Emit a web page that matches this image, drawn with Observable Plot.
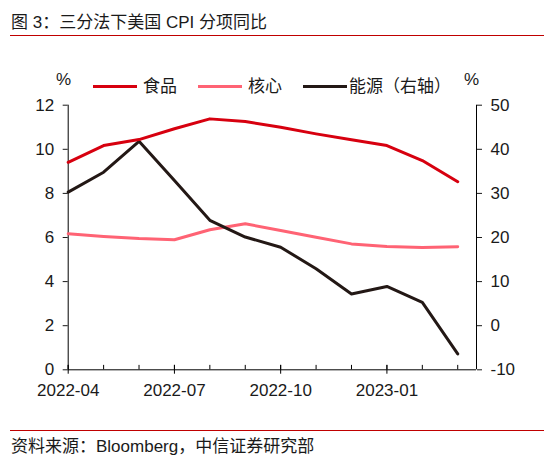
<!DOCTYPE html>
<html><head><meta charset="utf-8">
<script src="https://cdn.jsdelivr.net/npm/d3@7"></script>
<script src="https://cdn.jsdelivr.net/npm/@observablehq/plot@0.6"></script>
<style>
body{margin:0;background:#fff;}
#wrap{position:relative;width:558px;height:462px;font-family:"Liberation Sans",Arial,"Noto Sans CJK SC",sans-serif;color:#1a1a1a;overflow:hidden;}
.abs{position:absolute;white-space:nowrap;line-height:1;}
#wrap svg{position:absolute;left:0;top:0;background:transparent;}
</style></head><body><div id="wrap"></div>
<script>
const months = ["2022-04","2022-05","2022-06","2022-07","2022-08","2022-09","2022-10","2022-11","2022-12","2023-01","2023-02","2023-03"];
const food   = [9.41, 10.17, 10.44, 10.93, 11.38, 11.26, 11.0, 10.70, 10.43, 10.17, 9.49, 8.53];
const core   = [6.17, 6.05, 5.95, 5.90, 6.35, 6.62, 6.32, 6.01, 5.71, 5.59, 5.55, 5.58];
const energy = [30.3, 34.8, 41.8, 32.9, 23.9, 20.1, 17.8, 12.9, 7.2, 8.9, 5.3, -6.4];
const leftTicks = [0, 2, 4, 6, 8, 10, 12];
const rightTicks = [-10, 0, 10, 20, 30, 40, 50];
const xLabelIdx = [0, 3, 6, 9];
const seriesNames = ["食品", "核心", "能源（右轴）"];
const seriesColors = ["#d7000f", "#ff6374", "#231815"];

// right axis (-10..50) mapped onto left axis (0..12)
const toLeft = v => (v + 10) / 5;
const fromLeft = d => d * 5 - 10;

const idx = months.map((m, i) => i);
const foodRows = food.map((v, i) => ({i, v}));
const coreRows = core.map((v, i) => ({i, v}));
const energyRows = energy.map((v, i) => ({i, v: toLeft(v)}));

const W = 558, H = 462;
const plot = Plot.plot({
  width: W, height: H,
  marginLeft: 67.7, marginRight: 82, marginTop: 104.7, marginBottom: 92.7,
  style: {fontFamily: '"Liberation Sans", Arial, "Noto Sans CJK SC", sans-serif', fontSize: "17px", color: "#1a1a1a", background: "transparent", overflow: "visible"},
  x: {domain: [0, 11.53], axis: null},
  y: {domain: [0, 12], axis: null},
  marks: [
    Plot.ruleY([0], {stroke: "#000", strokeWidth: 1}),
    Plot.ruleX([0, 11.53], {stroke: "#000", strokeWidth: 1}),
    Plot.ruleX(idx, {x: d => d, y1: 0, y2: 0.2, stroke: "#000"}),
    Plot.ruleX(xLabelIdx, {x: d => d, y1: -0.2, y2: 0.2, stroke: "#000"}),
    Plot.axisX({ticks: xLabelIdx, tickFormat: i => months[i], tickSize: 0, tickPadding: 14, fontSize: 17, label: null}),
    Plot.axisY({anchor: "left", ticks: leftTicks, tickSize: 5, tickPadding: 9, label: null, fontSize: 17}),
    Plot.axisY({anchor: "right", ticks: rightTicks.map(toLeft), tickFormat: d => String(Math.round(fromLeft(d))), tickSize: 5, tickPadding: 9, label: null, fontSize: 17}),
    Plot.line(coreRows, {x: "i", y: "v", stroke: seriesColors[1], strokeWidth: 3}),
    Plot.line(energyRows, {x: "i", y: "v", stroke: seriesColors[2], strokeWidth: 3}),
    Plot.line(foodRows, {x: "i", y: "v", stroke: seriesColors[0], strokeWidth: 3})
  ]
});
const wrap = document.getElementById("wrap");
wrap.appendChild(plot);

function addText(txt, left, top, size, extra) {
  const d = document.createElement("div");
  d.className = "abs";
  d.textContent = txt;
  d.style.left = left + "px";
  d.style.top = top + "px";
  d.style.fontSize = size + "px";
  if (extra) Object.assign(d.style, extra);
  wrap.appendChild(d);
  return d;
}
function addBox(left, top, w, h, color) {
  const d = document.createElement("div");
  d.className = "abs";
  Object.assign(d.style, {left: left + "px", top: top + "px", width: w + "px", height: h + "px", background: color});
  wrap.appendChild(d);
}
// title
addText("图 3：三分法下美国 CPI 分项同比", 11, 14, 17);
addBox(10, 34.5, 534, 1.3, "#c00000");
// unit labels
addText("%", 56, 71, 17);
addText("%", 464, 71, 17);
// legend
const legX = [93, 198, 303];
const legTextX = [143, 248, 349];
seriesNames.forEach((n, k) => {
  addBox(legX[k], 85, 44, 3, seriesColors[k]);
  addText(n, legTextX[k], 77.5, 17);
});
// footer
addBox(10, 429.5, 534, 1.3, "#c00000");
addText("资料来源：Bloomberg，中信证券研究部", 11, 438, 17);
</script></body></html>
